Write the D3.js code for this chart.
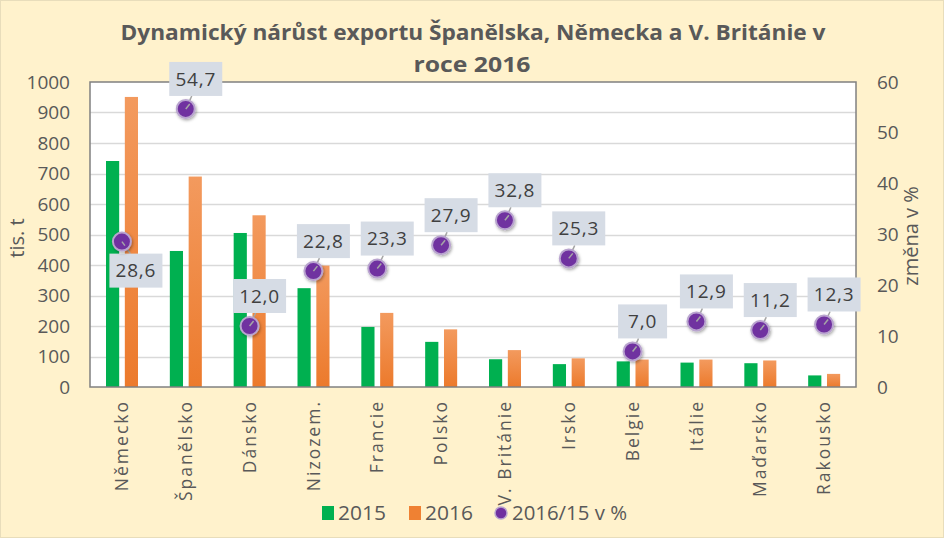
<!DOCTYPE html>
<html><head><meta charset="utf-8">
<script src="https://cdn.jsdelivr.net/npm/d3@7"></script>
<style>
html,body{margin:0;padding:0;background:#FFF2CC;}
svg{display:block;}
text{font-family:"Open Sans",sans-serif;}
</style></head>
<body>
<div id="chart"></div>
<script>
const categories = ["Německo","Španělsko","Dánsko","Nizozem.","Francie","Polsko","V. Británie","Irsko","Belgie","Itálie","Maďarsko","Rakousko"];
const values2015 = [741,446,505,324,197,148,91,75,84,80,78,38];
const values2016 = [951,690,563,398,243,189,121,94,90,90,87,43];
const changePct = [28.6,54.7,12.0,22.8,23.3,27.9,32.8,25.3,7.0,12.9,11.2,12.3];
const leftTicks = [0,100,200,300,400,500,600,700,800,900,1000];
const rightTicks = [0,10,20,30,40,50,60];
const seriesNames = ["2015","2016","2016/15 v %"];

const W = 944, H = 538;
const plot = {left: 90, right: 856, top: 82, bottom: 387};
const grey = "#595959";

const svg = d3.select("#chart").append("svg").attr("width", W).attr("height", H);
const defs = svg.append("defs");
const og = defs.append("linearGradient").attr("id","orangeGrad").attr("x1",0).attr("y1",0).attr("x2",0).attr("y2",1);
og.append("stop").attr("offset","0%").attr("stop-color","#F39A5E");
og.append("stop").attr("offset","100%").attr("stop-color","#EC7A2C");
const sh = defs.append("filter").attr("id","shadow").attr("x","-50%").attr("y","-50%").attr("width","200%").attr("height","200%");
sh.append("feDropShadow").attr("dx",1).attr("dy",1.5).attr("stdDeviation",1.5).attr("flood-color","#000").attr("flood-opacity",0.35);

svg.append("rect").attr("width",W).attr("height",H).attr("fill","#FFF2CC");
svg.append("rect").attr("x",0.5).attr("y",0.5).attr("width",W-1).attr("height",H-1).attr("fill","none").attr("stroke","#E8DDBB");

// title
svg.append("text").attr("x", 473).attr("y", 40).attr("text-anchor","middle")
  .attr("font-size", 22).attr("font-weight", "bold").attr("fill", grey)
  .attr("textLength", 705).attr("lengthAdjust","spacingAndGlyphs")
  .text("Dynamický nárůst exportu Španělska, Německa a V. Británie v");
svg.append("text").attr("x", 472).attr("y", 72).attr("text-anchor","middle")
  .attr("font-size", 22).attr("font-weight", "bold").attr("fill", grey)
  .attr("textLength", 117).attr("lengthAdjust","spacingAndGlyphs").text("roce 2016");

// plot background
svg.append("rect").attr("x",plot.left).attr("y",plot.top).attr("width",plot.right-plot.left).attr("height",plot.bottom-plot.top).attr("fill","#fff");

const x0 = d3.scaleBand().domain(categories).range([plot.left, plot.right]).padding(0);
const x1 = d3.scaleBand().domain(["2015","2016"]).range([16, 48]).paddingInner(0.3);
const yL = d3.scaleLinear().domain([0,1000]).range([plot.bottom, plot.top]);
const yR = d3.scaleLinear().domain([0,60]).range([plot.bottom, plot.top]);

// gridlines
svg.append("g").selectAll("line").data(leftTicks.filter(d=>d>0 && d<1000)).join("line")
  .attr("x1",plot.left).attr("x2",plot.right).attr("y1",d=>Math.round(yL(d))+0.5).attr("y2",d=>Math.round(yL(d))+0.5)
  .attr("stroke","#D9D9D9").attr("stroke-width",1.5);

// bars
const bars = svg.append("g");
categories.forEach((c,i)=>{
  bars.append("rect").attr("x", x0(c)+x1("2015")).attr("width", x1.bandwidth())
    .attr("y", yL(values2015[i])).attr("height", yL(0)-yL(values2015[i])).attr("fill","#00B050");
  bars.append("rect").attr("x", x0(c)+x1("2016")).attr("width", x1.bandwidth())
    .attr("y", yL(values2016[i])).attr("height", yL(0)-yL(values2016[i])).attr("fill","url(#orangeGrad)");
});

// plot border
svg.append("rect").attr("x",plot.left).attr("y",plot.top).attr("width",plot.right-plot.left).attr("height",plot.bottom-plot.top)
  .attr("fill","none").attr("stroke","#808080").attr("stroke-width",1.5);

// axes
const axL = svg.append("g").attr("transform",`translate(${plot.left},0)`)
  .call(d3.axisLeft(yL).tickValues(leftTicks).tickFormat(d3.format("d")).tickSize(0).tickPadding(20));
const axR = svg.append("g").attr("transform",`translate(${plot.right},0)`)
  .call(d3.axisRight(yR).tickValues(rightTicks).tickFormat(d3.format("d")).tickSize(0).tickPadding(21));
const axB = svg.append("g").attr("transform",`translate(0,${plot.bottom})`)
  .call(d3.axisBottom(x0).tickSize(0).tickPadding(0));
[axL,axR,axB].forEach(a=>{ a.select(".domain").remove(); a.selectAll("text").attr("fill",grey).attr("font-family","'Open Sans',sans-serif"); });
axL.selectAll("text").attr("font-size",19);
axR.selectAll("text").attr("font-size",19);
axB.selectAll("text").attr("font-size",17.5).attr("letter-spacing","2px")
  .attr("transform","rotate(-90)").attr("text-anchor","end").attr("x",-13).attr("y",0).attr("dy","0.35em").attr("dx",0);

// axis titles
svg.append("text").attr("transform","translate(24,238) rotate(-90)").attr("text-anchor","middle")
  .attr("font-size",20).attr("fill",grey).text("tis. t");
svg.append("text").attr("transform","translate(918,236) rotate(-90)").attr("text-anchor","middle")
  .attr("font-size",20).attr("fill",grey).text("změna v %");

// dots + labels
const fmt = v => v.toFixed(1).replace(".", ",");
const lab = svg.append("g");
categories.forEach((c,i)=>{
  const cx = x0(c) + x0.bandwidth()/2;
  const cy = yR(changePct[i]);
  const below = i === 0;
  const dx = below ? 14 : 10;
  const dy = below ? 29 : -30;
  const txt = fmt(changePct[i]);
  const bw = txt.length > 3 ? 53 : 49, bh = 34;
  const bx = cx + dx - bw/2, by = cy + dy - bh/2;
  const ey = below ? by : by + bh;
  lab.append("line").attr("x1",cx).attr("y1",cy).attr("x2",cx+dx*0.6).attr("y2",ey)
    .attr("stroke","#A6A6A6").attr("stroke-width",1.5);
  lab.append("rect").attr("x",bx).attr("y",by).attr("width",bw).attr("height",bh).attr("fill","#D6DCE5");
  lab.append("text").attr("x",cx+dx).attr("y",cy+dy).attr("dy","0.36em").attr("text-anchor","middle")
    .attr("font-size",19).attr("letter-spacing","0.8px").attr("fill","#404040").text(txt);
  lab.append("circle").attr("cx",cx).attr("cy",cy).attr("r",9)
    .attr("fill","#7030A0").attr("stroke","#B9A4CF").attr("stroke-width",2).attr("filter","url(#shadow)");
  lab.append("line").attr("x1",cx).attr("y1",cy).attr("x2",cx+ (below?3:4)).attr("y2",cy+(below?4:-5))
    .attr("stroke","#A6A6A6").attr("stroke-width",1.5);
});

// legend
const leg = svg.append("g").attr("font-size",20).attr("fill",grey);
leg.append("rect").attr("x",322).attr("y",506).attr("width",12).attr("height",14).attr("fill","#00B050");
leg.append("text").attr("x",338).attr("y",513).attr("dy","0.36em").attr("fill",grey)
  .attr("textLength",48).attr("lengthAdjust","spacingAndGlyphs").text(seriesNames[0]);
leg.append("rect").attr("x",409).attr("y",506).attr("width",12).attr("height",14).attr("fill","#EF8133");
leg.append("text").attr("x",425).attr("y",513).attr("dy","0.36em").attr("fill",grey)
  .attr("textLength",48).attr("lengthAdjust","spacingAndGlyphs").text(seriesNames[1]);
leg.append("circle").attr("cx",501).attr("cy",513).attr("r",6).attr("fill","#7030A0").attr("stroke","#B9A4CF").attr("stroke-width",1.5);
leg.append("text").attr("x",512).attr("y",513).attr("dy","0.36em").attr("fill",grey)
  .attr("textLength",115).attr("lengthAdjust","spacingAndGlyphs").text(seriesNames[2]);
</script>
</body></html>
